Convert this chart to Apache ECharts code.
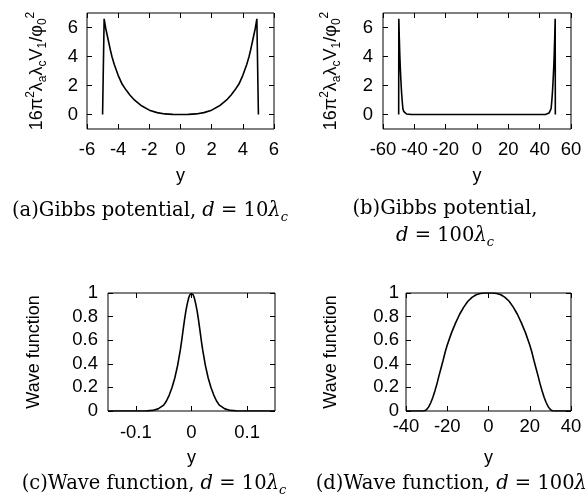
<!DOCTYPE html>
<html>
<head>
<meta charset="utf-8">
<script src="https://cdn.jsdelivr.net/npm/echarts@6/dist/echarts.min.js"></script>
<style>html,body{margin:0;padding:0;background:#fff}#c{width:587px;height:499px}</style>
</head>
<body>
<div id="c"></div>
<script>
// ---- (a) Gibbs potential, d = 10 lambda_c ----
const gibbsA_y = [-5.0, -4.9, -4.8, -4.7, -4.6, -4.5, -4.4, -4.25, -4.0, -3.75, -3.5, -3.25, -3.0, -2.5, -2.0, -1.5, -1.0, -0.5, 0,
                  0.5, 1.0, 1.5, 2.0, 2.5, 3.0, 3.25, 3.5, 3.75, 4.0, 4.25, 4.4, 4.5, 4.6, 4.7, 4.8, 4.9, 5.0];
const gibbsA_v = [0, 6.6, 5.95, 5.45, 4.95, 4.45, 4.0, 3.45, 2.7, 2.1, 1.7, 1.35, 1.05, 0.6, 0.3, 0.13, 0.04, 0.01, 0,
                  0.01, 0.04, 0.13, 0.3, 0.6, 1.05, 1.35, 1.7, 2.1, 2.7, 3.45, 4.0, 4.45, 4.95, 5.45, 5.95, 6.6, 0];
// ---- (b) Gibbs potential, d = 100 lambda_c ----
const gibbsB_y = [-50, -49.9, -49.6, -49.3, -49, -48.6, -48.2, -47.8, -47.3, -46.8, -46, -45, -44, -42, 0,
                  42, 44, 45, 46, 46.8, 47.3, 47.8, 48.2, 48.6, 49, 49.3, 49.6, 49.9, 50];
const gibbsB_v = [0, 6.6, 5.3, 4.2, 3.3, 2.4, 1.6, 1.0, 0.4, 0.22, 0.1, 0.035, 0.01, 0, 0,
                  0, 0.01, 0.035, 0.1, 0.22, 0.4, 1.0, 1.6, 2.4, 3.3, 4.2, 5.3, 6.6, 0];
// ---- (c) Wave function, d = 10 lambda_c ----
const waveC_y = [-0.15, -0.1, -0.08, -0.07, -0.06, -0.05, -0.045, -0.04, -0.035, -0.03, -0.025, -0.02, -0.0175, -0.015, -0.0125, -0.01, -0.0075, -0.005, -0.0025, 0,
                 0.0025, 0.005, 0.0075, 0.01, 0.0125, 0.015, 0.0175, 0.02, 0.025, 0.03, 0.035, 0.04, 0.045, 0.05, 0.06, 0.07, 0.08, 0.1, 0.15];
const waveC_v = [0, 0, 0.001, 0.005, 0.018, 0.05, 0.085, 0.135, 0.2, 0.28, 0.385, 0.52, 0.6, 0.69, 0.775, 0.85, 0.91, 0.96, 0.99, 1.0,
                 0.99, 0.96, 0.91, 0.85, 0.775, 0.69, 0.6, 0.52, 0.385, 0.28, 0.2, 0.135, 0.085, 0.05, 0.018, 0.005, 0.001, 0, 0];
// ---- (d) Wave function, d = 100 lambda_c ----
const waveD_y = [-40, -32, -31, -30, -29, -28, -27, -26, -25, -24, -23, -22, -21, -20, -18, -16, -14, -12, -10, -8, -6, -4, -2, 0,
                 2, 4, 6, 8, 10, 12, 14, 16, 18, 20, 21, 22, 23, 24, 25, 26, 27, 28, 29, 30, 31, 32, 40];
const waveD_v = [0, 0, 0.002, 0.012, 0.035, 0.07, 0.115, 0.17, 0.23, 0.3, 0.365, 0.43, 0.5, 0.56, 0.66, 0.745, 0.82, 0.88, 0.93, 0.963, 0.985, 0.996, 1.0, 1.0,
                 1.0, 0.996, 0.985, 0.963, 0.93, 0.88, 0.82, 0.745, 0.66, 0.56, 0.5, 0.43, 0.365, 0.3, 0.23, 0.17, 0.115, 0.07, 0.035, 0.012, 0.002, 0, 0];

// ---- tick labels ----
const ticksA_x = [-6, -4, -2, 0, 2, 4, 6];
const ticksB_x = [-60, -40, -20, 0, 20, 40, 60];
const ticksGibbs_v = [0, 2, 4, 6];
const ticksC_x = [-0.1, 0, 0.1];
const ticksD_x = [-40, -20, 0, 20, 40];
const ticksWave_v = [0, 0.2, 0.4, 0.6, 0.8, 1];

const SANS = 'Liberation Sans';
const SERIF = 'DejaVu Serif';
const FS = 18.5;
const NFS = 18;

function pairs(xs, vs) { return xs.map((x, i) => [x, vs[i]]); }

const gibbsName = '{n|16π}{p|2}{n|λ}{b|a}{n|λ}{b|c}{n|V}{b|1}{n|/φ}{b|0}{p|2}';
const nameRich = {
  n: { fontSize: NFS, fontFamily: SANS, color: '#000', lineHeight: 24, verticalAlign: 'middle' },
  p: { fontSize: 12, fontFamily: SANS, color: '#000', lineHeight: 12, verticalAlign: 'top' },
  b: { fontSize: 12, fontFamily: SANS, color: '#000', lineHeight: 12, verticalAlign: 'bottom' }
};

const panels = [
  { grid: { left: 87, top: 13, width: 187, height: 116 }, xmin: -6, xmax: 6, ymin: -1, ymax: 7,
    xt: ticksA_x, yt: ticksGibbs_v, xm: 11, ym: 9, yname: gibbsName, yGap: 38, xGap: 38, data: pairs(gibbsA_y, gibbsA_v) },
  { grid: { left: 383, top: 13, width: 188, height: 116 }, xmin: -60, xmax: 60, ymin: -1, ymax: 7,
    xt: ticksB_x, yt: ticksGibbs_v, xm: 11, ym: 10, yname: gibbsName, yGap: 40, xGap: 38, data: pairs(gibbsB_y, gibbsB_v) },
  { grid: { left: 108, top: 293, width: 167, height: 118 }, xmin: -0.15, xmax: 0.15, ymin: 0, ymax: 1,
    xt: ticksC_x, yt: ticksWave_v, xm: 12, ym: 10, yname: 'Wave function', yGap: 65, xGap: 38, data: pairs(waveC_y, waveC_v) },
  { grid: { left: 406, top: 293, width: 165, height: 118 }, xmin: -40, xmax: 40, ymin: 0, ymax: 1,
    xt: ticksD_x, yt: ticksWave_v, xm: 6, ym: 7, yname: 'Wave function', yGap: 66, xGap: 38, data: pairs(waveD_y, waveD_v) }
];

const grids = [], xAxes = [], yAxes = [], series = [];
panels.forEach((p, i) => {
  grids.push(Object.assign({ show: true, borderColor: '#000', borderWidth: 1, backgroundColor: 'transparent' }, p.grid));
  const tickStyle = { show: true, inside: true, length: 5, lineStyle: { color: '#000', width: 1 } };
  const lab = { color: '#000', fontFamily: SANS, fontSize: FS };
  const line = { show: false, onZero: false };
  xAxes.push({
    type: 'value', gridIndex: i, position: 'bottom', min: p.xmin, max: p.xmax,
    axisLine: line, splitLine: { show: false },
    axisTick: Object.assign({ customValues: p.xt }, tickStyle),
    axisLabel: Object.assign({ customValues: p.xt, margin: p.xm, showMinLabel: true, showMaxLabel: true }, lab),
    name: 'y', nameLocation: 'middle', nameGap: p.xGap,
    nameTextStyle: { color: '#000', fontFamily: SANS, fontSize: NFS }
  });
  xAxes.push({
    type: 'value', gridIndex: i, position: 'top', min: p.xmin, max: p.xmax,
    axisLine: line, splitLine: { show: false },
    axisTick: Object.assign({ customValues: p.xt }, tickStyle),
    axisLabel: { show: false }
  });
  yAxes.push({
    type: 'value', gridIndex: i, position: 'left', min: p.ymin, max: p.ymax,
    axisLine: line, splitLine: { show: false },
    axisTick: Object.assign({ customValues: p.yt }, tickStyle),
    axisLabel: Object.assign({ customValues: p.yt, margin: p.ym, showMinLabel: true, showMaxLabel: true }, lab),
    name: p.yname, nameLocation: 'middle', nameRotate: 90, nameGap: p.yGap,
    nameTextStyle: { color: '#000', fontFamily: SANS, fontSize: NFS, rich: nameRich }
  });
  yAxes.push({
    type: 'value', gridIndex: i, position: 'right', min: p.ymin, max: p.ymax,
    axisLine: line, splitLine: { show: false },
    axisTick: Object.assign({ customValues: p.yt }, tickStyle),
    axisLabel: { show: false }
  });
  series.push({
    type: 'line', xAxisIndex: 2 * i, yAxisIndex: 2 * i, data: p.data,
    showSymbol: false, symbol: 'none', smooth: false, animation: false,
    lineStyle: { color: '#000', width: 1.6 }, z: 5
  });
});

const capRich = {
  r: { fontFamily: SERIF, fontSize: 19.5, color: '#000', lineHeight: 26, verticalAlign: 'middle' },
  i: { fontFamily: SERIF, fontSize: 19.5, fontStyle: 'italic', color: '#000', lineHeight: 26, verticalAlign: 'middle' },
  s: { fontFamily: SERIF, fontSize: 13, fontStyle: 'italic', color: '#000', lineHeight: 14, verticalAlign: 'bottom' }
};
function caption(x, y, text) {
  return { type: 'text', x: x, y: y, silent: true,
    style: { text: text, rich: capRich, align: 'center', verticalAlign: 'middle', fill: '#000' } };
}

const chart = echarts.init(document.getElementById('c'), null, { renderer: 'canvas' });
chart.setOption({
  animation: false,
  backgroundColor: '#fff',
  grid: grids,
  xAxis: xAxes,
  yAxis: yAxes,
  series: series,
  graphic: [
    caption(150, 211, '{r|(a)Gibbs potential, }{i|d}{r| = 10}{i|λ}{s|c}'),
    caption(445, 209, '{r|(b)Gibbs potential,}'),
    caption(445, 236, '{i|d}{r| = 100}{i|λ}{s|c}'),
    caption(154, 484, '{r|(c)Wave function, }{i|d}{r| = 10}{i|λ}{s|c}'),
    caption(455, 484, '{r|(d)Wave function, }{i|d}{r| = 100}{i|λ}{s|c}')
  ]
});
</script>
</body>
</html>
